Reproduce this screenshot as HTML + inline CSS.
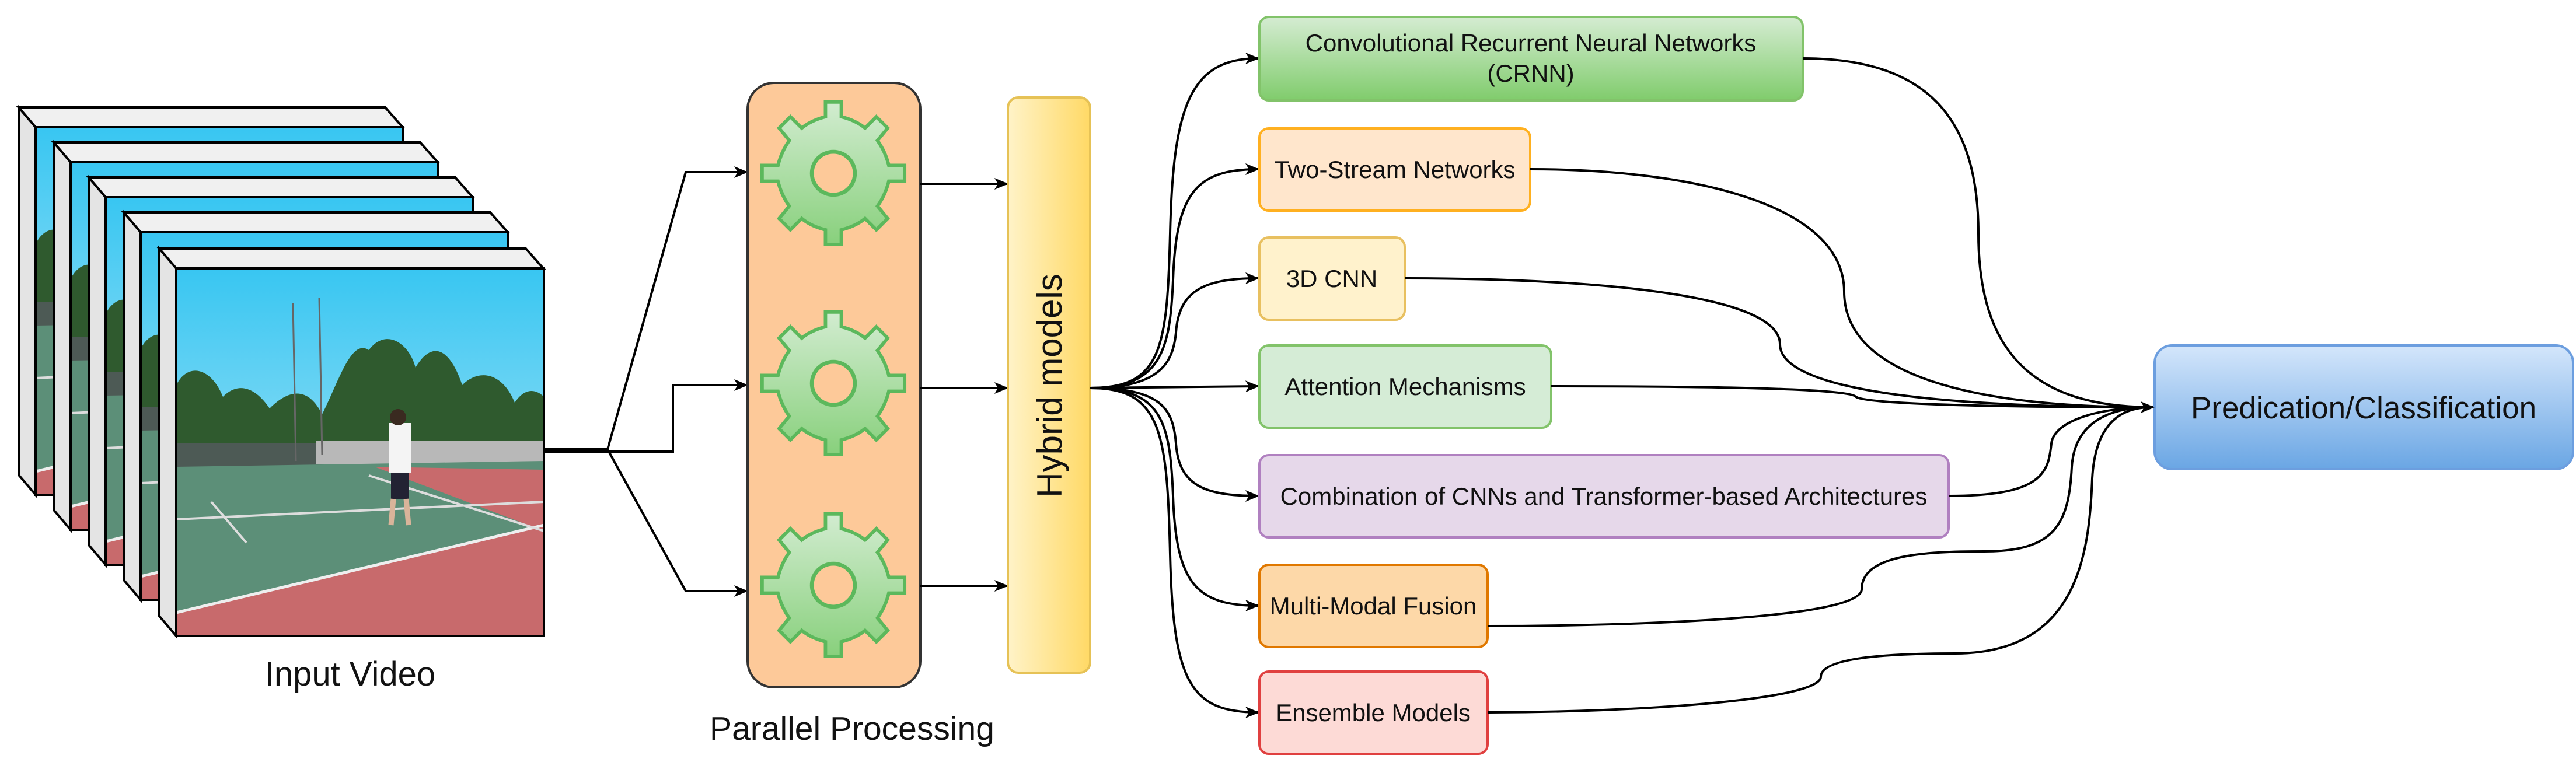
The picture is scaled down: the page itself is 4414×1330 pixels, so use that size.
<!DOCTYPE html>
<html><head><meta charset="utf-8"><style>
html,body{margin:0;padding:0;background:#fff;}
svg{display:block;}
text{font-family:"Liberation Sans",Arial,sans-serif;fill:#111;}
</style></head><body>
<svg width="4414" height="1330" viewBox="0 0 4414 1330" xmlns="http://www.w3.org/2000/svg">
<defs>
<linearGradient id="sky" x1="0" y1="0" x2="0" y2="1"><stop offset="0" stop-color="#38c6f2"/><stop offset="1" stop-color="#c6ecf6"/></linearGradient>
<linearGradient id="gear" x1="0" y1="0" x2="0" y2="1"><stop offset="0" stop-color="#d2ecd0"/><stop offset="1" stop-color="#88d07c"/></linearGradient>
<linearGradient id="hyb" x1="0" y1="0" x2="1" y2="0"><stop offset="0" stop-color="#fff3c8"/><stop offset="1" stop-color="#ffd966"/></linearGradient>
<linearGradient id="grn" x1="0" y1="0" x2="0" y2="1"><stop offset="0" stop-color="#d5ecd2"/><stop offset="1" stop-color="#80cc6c"/></linearGradient>
<linearGradient id="blu" x1="0" y1="0" x2="0" y2="1"><stop offset="0" stop-color="#d4e6fb"/><stop offset="1" stop-color="#6aa6e4"/></linearGradient>
<marker id="ar" viewBox="0 0 24 20" refX="22" refY="10" markerWidth="24" markerHeight="20" markerUnits="userSpaceOnUse" orient="auto">
<path d="M0,0 L24,10 L0,20 L6,10 Z" fill="#000"/>
</marker>
<symbol id="photo" viewBox="0 0 630 630">
<rect x="0" y="0" width="630" height="630" fill="url(#sky)"/>
<path d="M0,200 C20,160 60,170 80,220 C110,190 140,210 160,240 C200,200 230,210 250,250 C280,190 300,120 330,140 C360,100 400,130 410,170 C440,120 470,140 490,200 C520,170 560,180 580,230 C600,200 620,210 630,220 L630,350 L0,350 Z" fill="#2f5a2e"/>
<rect x="0" y="300" width="630" height="60" fill="#4d5a55"/>
<rect x="240" y="295" width="390" height="40" fill="#b8b8b8"/>
<path d="M0,340 L630,330 L630,630 L0,630 Z" fill="#5c8f78"/>
<path d="M340,340 L630,345 L630,450 Z" fill="#c86a6c"/>
<path d="M0,590 L630,440 L630,630 L0,630 Z" fill="#c86a6c"/>
<path d="M0,590 L630,440" stroke="#eee" stroke-width="5"/>
<path d="M0,430 L630,400 M60,400 L120,470 M330,355 L630,450" stroke="#ddd" stroke-width="4"/>
<path d="M200,60 L205,330 M245,50 L250,320" stroke="#666" stroke-width="3"/>
<rect x="365" y="265" width="38" height="85" fill="#f4f4f4"/>
<circle cx="380" cy="255" r="14" fill="#3a2a20"/>
<rect x="368" y="350" width="30" height="45" fill="#223"/>
<path d="M372,395 L368,440 M394,395 L398,440" stroke="#d9b49a" stroke-width="9"/>
</symbol>
<symbol id="gearS" viewBox="-130 -130 260 260">
<path d="M-14,-126 L14,-126 L14,-100 C30,-96 44,-90 56,-80 L76,-100 L96,-80 L78,-58 C88,-44 94,-30 98,-14 L126,-14 L126,14 L98,14 C94,30 88,44 78,58 L96,80 L76,100 L56,80 C44,90 30,96 14,100 L14,126 L-14,126 L-14,100 C-30,96 -44,90 -56,80 L-76,100 L-96,80 L-78,58 C-88,44 -94,30 -98,14 L-126,14 L-126,-14 L-98,-14 C-94,-30 -88,-44 -78,-58 L-96,-80 L-76,-100 L-56,-80 C-44,-90 -30,-96 -14,-100 Z" fill="url(#gear)" stroke="#5cb85c" stroke-width="6"/>
<circle cx="0" cy="0" r="38" fill="#fdc999" stroke="#5cb85c" stroke-width="7"/>
</symbol>
</defs>

<g stroke="#000" stroke-width="4">
<g transform="translate(0,0)">
<polygon points="32,184 61,218 61,848 32,814" fill="#e4e4e4"/><polygon points="32,184 660,184 690,218 61,218" fill="#f0f0f0"/>
<svg x="61" y="218" width="630" height="630" stroke="none"><use href="#photo"/></svg><rect x="61" y="218" width="630" height="630" fill="none"/>
</g>
<g transform="translate(60,60)">
<polygon points="32,184 61,218 61,848 32,814" fill="#e4e4e4"/><polygon points="32,184 660,184 690,218 61,218" fill="#f0f0f0"/>
<svg x="61" y="218" width="630" height="630" stroke="none"><use href="#photo"/></svg><rect x="61" y="218" width="630" height="630" fill="none"/>
</g>
<g transform="translate(120,120)">
<polygon points="32,184 61,218 61,848 32,814" fill="#e4e4e4"/><polygon points="32,184 660,184 690,218 61,218" fill="#f0f0f0"/>
<svg x="61" y="218" width="630" height="630" stroke="none"><use href="#photo"/></svg><rect x="61" y="218" width="630" height="630" fill="none"/>
</g>
<g transform="translate(180,180)">
<polygon points="32,184 61,218 61,848 32,814" fill="#e4e4e4"/><polygon points="32,184 660,184 690,218 61,218" fill="#f0f0f0"/>
<svg x="61" y="218" width="630" height="630" stroke="none"><use href="#photo"/></svg><rect x="61" y="218" width="630" height="630" fill="none"/>
</g>
<g transform="translate(241,242)">
<polygon points="32,184 61,218 61,848 32,814" fill="#e4e4e4"/><polygon points="32,184 660,184 690,218 61,218" fill="#f0f0f0"/>
<svg x="61" y="218" width="630" height="630" stroke="none"><use href="#photo"/></svg><rect x="61" y="218" width="630" height="630" fill="none"/>
</g>
</g>
<text x="600" y="1175" font-size="58" text-anchor="middle">Input Video</text>

<g fill="none" stroke="#000" stroke-width="4">
<path d="M932,770 L1041,770 L1175,295 L1280,295" marker-end="url(#ar)"/>
<path d="M932,774 L1153,774 L1153,660 L1280,660" marker-end="url(#ar)"/>
<path d="M1041,770 L1175,1013 L1280,1013" marker-end="url(#ar)"/>
</g>

<rect x="1281" y="142" width="296" height="1036" rx="45" fill="#fdc999" stroke="#333" stroke-width="4"/>
<use href="#gearS" x="1302" y="171" width="252" height="252"/>
<use href="#gearS" x="1302" y="531" width="252" height="252"/>
<use href="#gearS" x="1302" y="877" width="252" height="252"/>
<text x="1460" y="1268" font-size="57" text-anchor="middle">Parallel Processing</text>

<g fill="none" stroke="#000" stroke-width="4">
<path d="M1577,315 L1726,315" marker-end="url(#ar)"/>
<path d="M1577,665 L1726,665" marker-end="url(#ar)"/>
<path d="M1577,1004 L1726,1004" marker-end="url(#ar)"/>
</g>

<rect x="1727" y="167" width="141" height="986" rx="18" fill="url(#hyb)" stroke="#e6c256" stroke-width="4"/>
<text x="0" y="0" font-size="60" text-anchor="middle" transform="translate(1819,661) rotate(-90)">Hybrid models</text>

<g fill="none" stroke="#000" stroke-width="4">
<path d="M1868,665 C1990,665 2000,600 2005,400 C2010,180 2040,100 2156,100" marker-end="url(#ar)"/>
<path d="M1868,665 C1990,665 2005,600 2010,480 C2015,330 2050,290 2156,290" marker-end="url(#ar)"/>
<path d="M1868,665 C1990,665 2010,620 2015,570 C2020,500 2060,477 2156,477" marker-end="url(#ar)"/>
<path d="M1868,665 L2156,662" marker-end="url(#ar)"/>
<path d="M1868,665 C1990,665 2010,700 2015,760 C2020,830 2060,850 2156,850" marker-end="url(#ar)"/>
<path d="M1868,665 C1990,665 2005,720 2010,850 C2015,1000 2050,1038 2156,1038" marker-end="url(#ar)"/>
<path d="M1868,665 C1990,665 2000,740 2005,950 C2010,1170 2040,1221 2156,1221" marker-end="url(#ar)"/>
</g>

<g stroke-width="4">
<rect x="2158" y="29" width="931" height="143" rx="16" fill="url(#grn)" stroke="#82c36a"/>
<rect x="2158" y="220" width="464" height="141" rx="16" fill="#ffe6cc" stroke="#ffb020"/>
<rect x="2158" y="407" width="249" height="141" rx="16" fill="#fff2cc" stroke="#e8c060"/>
<rect x="2158" y="592" width="500" height="141" rx="16" fill="#d5ecd6" stroke="#82c36a"/>
<rect x="2158" y="780" width="1181" height="141" rx="16" fill="#e6d8ea" stroke="#b080c0"/>
<rect x="2158" y="968" width="391" height="141" rx="16" fill="#fdd8a8" stroke="#e07800"/>
<rect x="2158" y="1151" width="391" height="141" rx="16" fill="#fddad6" stroke="#e04040"/>
<rect x="3692" y="592" width="717" height="212" rx="30" fill="url(#blu)" stroke="#6c9edf"/>
</g>
<g font-size="42" text-anchor="middle">
<text x="2623" y="88">Convolutional Recurrent Neural Networks</text>
<text x="2623" y="140">(CRNN)</text>
<text x="2390" y="305">Two-Stream Networks</text>
<text x="2282" y="492">3D CNN</text>
<text x="2408" y="677">Attention Mechanisms</text>
<text x="2748" y="865">Combination of CNNs and Transformer-based Architectures</text>
<text x="2353" y="1053">Multi-Modal Fusion</text>
<text x="2353" y="1236">Ensemble Models</text>
</g>
<text x="4050" y="717" font-size="53" text-anchor="middle">Predication/Classification</text>

<g fill="none" stroke="#000" stroke-width="4">
<path d="M3089,100 C3300,100 3390,200 3390,400 C3390,600 3480,698 3690,698" marker-end="url(#ar)"/>
<path d="M2622,290 C2900,290 3160,350 3160,500 C3160,650 3400,698 3686,698"/>
<path d="M2407,477 C2700,477 3050,500 3050,590 C3050,680 3400,698 3686,698"/>
<path d="M2658,662 C2900,662 3170,665 3180,680 C3200,695 3500,698 3686,698"/>
<path d="M3339,850 C3500,850 3510,810 3515,760 C3520,720 3600,698 3686,698"/>
<path d="M2549,1073 C2800,1073 3190,1060 3190,1010 C3190,950 3300,945 3400,945 C3520,945 3545,900 3550,800 C3555,720 3620,698 3686,698"/>
<path d="M2549,1221 C2800,1221 3120,1200 3120,1160 C3120,1125 3250,1120 3350,1120 C3560,1120 3580,950 3585,820 C3590,730 3630,698 3686,698"/>
</g>
</svg>
</body></html>
